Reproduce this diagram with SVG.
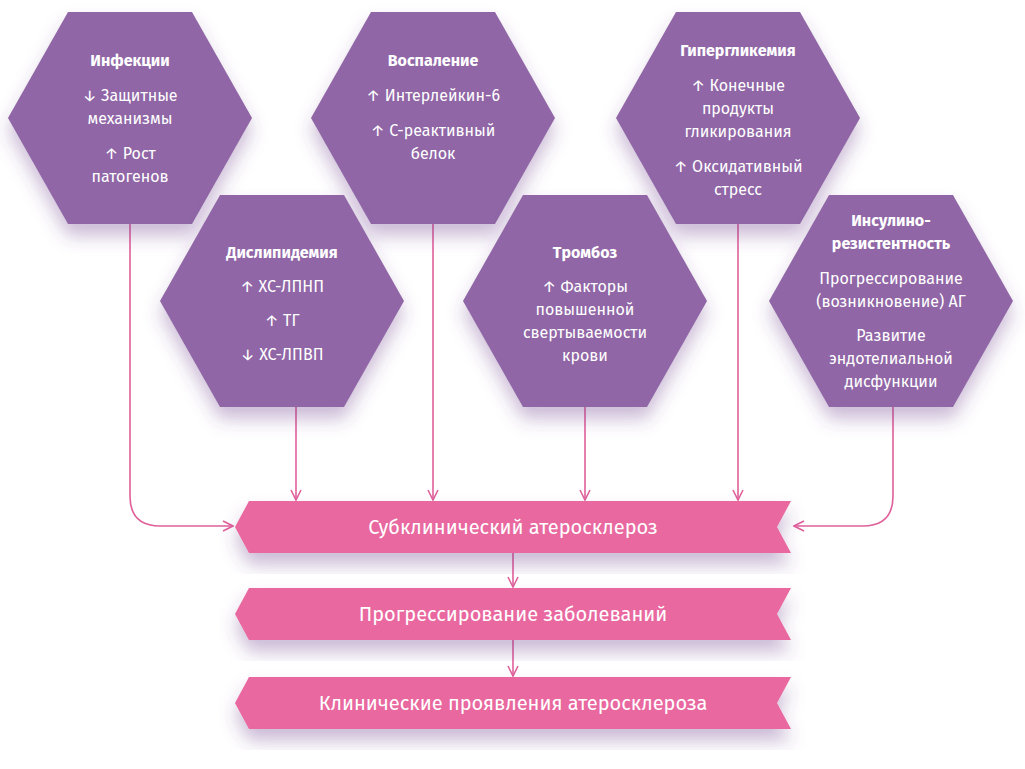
<svg xmlns="http://www.w3.org/2000/svg" width="1025" height="769" viewBox="0 0 1025 769">
<defs>
<filter id="sh" x="-20%" y="-20%" width="140%" height="160%"><feDropShadow dx="0" dy="12" stdDeviation="9" flood-color="#6a3d8a" flood-opacity="0.35"/></filter>
<marker id="ar" viewBox="0 0 12 12" refX="11" refY="6" markerWidth="12" markerHeight="12" markerUnits="userSpaceOnUse" orient="auto"><path d="M1,1 L11,6 L1,11" fill="none" stroke="#e0609a" stroke-width="1.6"/></marker>
<polygon id="hex" points="-122,0 -62,-106 62,-106 122,0 62,106 -62,106"/>
<polygon id="ban" points="-278,0 -264,-26 278,-26 264,0 278,26 -264,26"/>
</defs>
<style>
.h{fill:#9066a6;filter:url(#sh)}
.b{fill:#e8679f;filter:url(#sh)}
text{font-family:"Fira Sans","Noto Sans","Open Sans",sans-serif;fill:#fff;text-anchor:middle}
.t{font-weight:bold;font-size:16px}
.x{font-size:16px}
.bt{font-size:20px}
.c{fill:none;stroke:#e0609a;stroke-width:1.6}
</style>
<rect width="1025" height="769" fill="#fff"/>
<g id="connectors">
<path class="c" d="M130,224 V496 Q130,526 160,526 H233" marker-end="url(#ar)"/>
<path class="c" d="M893,407 V496 Q893,526 863,526 H794" marker-end="url(#ar)"/>
<path class="c" d="M296,407 V500" marker-end="url(#ar)"/>
<path class="c" d="M433,224 V500" marker-end="url(#ar)"/>
<path class="c" d="M585,407 V500" marker-end="url(#ar)"/>
<path class="c" d="M738,224 V500" marker-end="url(#ar)"/>
<path class="c" d="M513,552 V587" marker-end="url(#ar)"/>
<path class="c" d="M513,640 V676" marker-end="url(#ar)"/>
</g>
<g id="infections"><use href="#hex" class="h" x="130" y="118"/>
<text class="t" x="130" y="66">Инфекции</text>
<text class="x" x="130" y="101">↓ Защитные</text><text class="x" x="130" y="124">механизмы</text>
<text class="x" x="130" y="159">↑ Рост</text><text class="x" x="130" y="182">патогенов</text></g>
<g id="inflammation"><use href="#hex" class="h" x="433" y="118"/>
<text class="t" x="433" y="66">Воспаление</text>
<text class="x" x="433" y="101">↑ Интерлейкин-6</text>
<text class="x" x="433" y="136">↑ С-реактивный</text><text class="x" x="433" y="159">белок</text></g>
<g id="hyperglycemia"><use href="#hex" class="h" x="738" y="118"/>
<text class="t" x="738" y="56">Гипергликемия</text>
<text class="x" x="738" y="91">↑ Конечные</text><text class="x" x="738" y="114">продукты</text><text class="x" x="738" y="137">гликирования</text>
<text class="x" x="738" y="172">↑ Оксидативный</text><text class="x" x="738" y="195">стресс</text></g>
<g id="dyslipidemia"><use href="#hex" class="h" x="282" y="301"/>
<text class="t" x="282" y="258">Дислипидемия</text>
<text class="x" x="282" y="292">↑ ХС-ЛПНП</text>
<text class="x" x="282" y="326">↑ ТГ</text>
<text class="x" x="282" y="360">↓ ХС-ЛПВП</text></g>
<g id="thrombosis"><use href="#hex" class="h" x="585" y="301"/>
<text class="t" x="585" y="258">Тромбоз</text>
<text class="x" x="585" y="292">↑ Факторы</text><text class="x" x="585" y="315">повышенной</text><text class="x" x="585" y="338">свертываемости</text><text class="x" x="585" y="361">крови</text></g>
<g id="insulin"><use href="#hex" class="h" x="891" y="301"/>
<text class="t" x="891" y="226">Инсулино-</text><text class="t" x="891" y="249">резистентность</text>
<text class="x" x="891" y="284">Прогрессирование</text><text class="x" x="891" y="307">(возникновение) АГ</text>
<text class="x" x="891" y="341">Развитие</text><text class="x" x="891" y="364">эндотелиальной</text><text class="x" x="891" y="387">дисфункции</text></g>
<g id="subclinical"><use href="#ban" class="b" x="513" y="527"/><text class="bt" x="513" y="534">Субклинический атеросклероз</text></g>
<g id="progression"><use href="#ban" class="b" x="513" y="614"/><text class="bt" x="513" y="621">Прогрессирование заболеваний</text></g>
<g id="clinical"><use href="#ban" class="b" x="513" y="703"/><text class="bt" x="513" y="710">Клинические проявления атеросклероза</text></g>
</svg>
